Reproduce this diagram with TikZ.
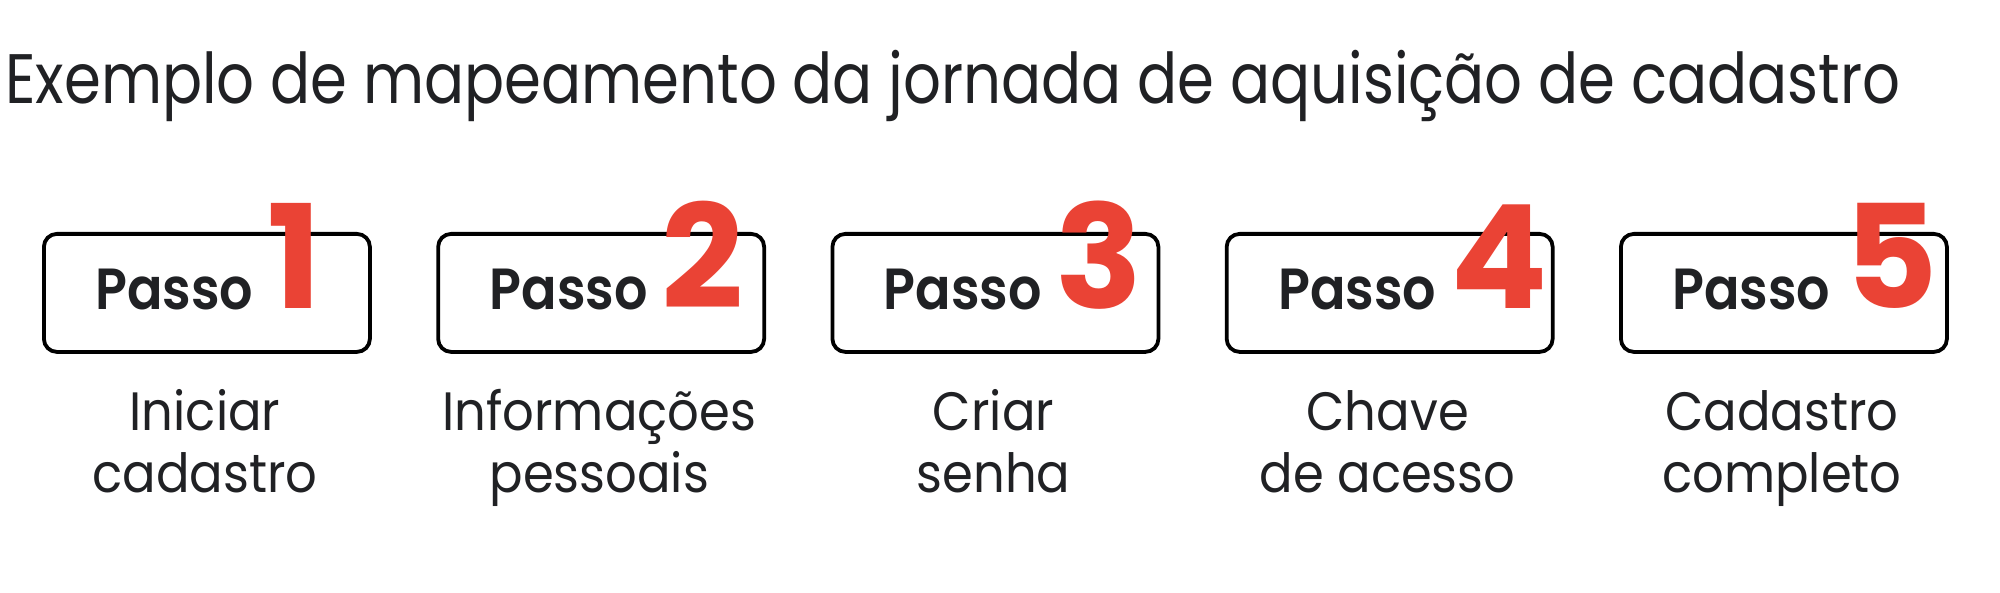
\documentclass[tikz,border=0pt]{standalone}
\usepackage{fontspec}
\usepackage{graphicx}
\setmainfont{Poppins}[BoldFont={Poppins SemiBold}]
\newfontfamily\numfont{Poppins}[UprightFont={Poppins Bold}]
\definecolor{ink}{HTML}{202124}
\definecolor{gred}{HTML}{EA4335}
\newlength{\lblnat}
\settowidth{\lblnat}{\fontsize{27}{27}\selectfont cadastro}
\pgfmathsetmacro{\lblsx}{112.5pt/\lblnat}
\tikzset{
  stepbox/.style={draw=black, line width=1.9pt, rounded corners=6.5pt, minimum width=163pt, minimum height=59pt, inner sep=0pt, anchor=north west},
  passo/.style={anchor=base west, inner sep=0pt, text=ink, font=\fontsize{29}{29}\selectfont\bfseries},
  num/.style={anchor=base west, inner sep=0pt, text=gred, font=\fontsize{72}{72}\selectfont\numfont},
  lbl/.style={anchor=base, inner sep=0pt, text=ink, font=\fontsize{27}{27}\selectfont},
  ttl/.style={anchor=base west, inner sep=0pt, text=ink, font=\fontsize{35}{35}\selectfont}
}
\begin{document}
\begin{tikzpicture}[x=0.5pt,y=-0.5pt]
\useasboundingbox (0,0) rectangle (2000,593);
\node[ttl] (title) at (5,104) {\resizebox{947.5pt}{\height}{Exemplo de mapeamento da jornada de aquisição de cadastro}};
\foreach \i/\n/\la/\lb in {0/1/Iniciar/cadastro, 1/2/Informações/pessoais, 2/3/Criar/senha, 3/4/Chave/de acesso, 4/5/Cadastro/completo}{
  \pgfmathsetmacro{\bx}{40+394.25*\i}
  \node[stepbox] (box\n) at (\bx+2,232) {};
  \node[passo] (passo\n) at (\bx+55,309) {\resizebox{79pt}{\height}{Passo}};
  \node[num] (num\n) at (\bx+227,308) {\n};
  \node[lbl] (lbl\n a) at (\bx+165,430) {\scalebox{\lblsx}[1]{\la}};
  \node[lbl] (lbl\n b) at (\bx+165,492) {\scalebox{\lblsx}[1]{\lb}};
}
\end{tikzpicture}
\end{document}
